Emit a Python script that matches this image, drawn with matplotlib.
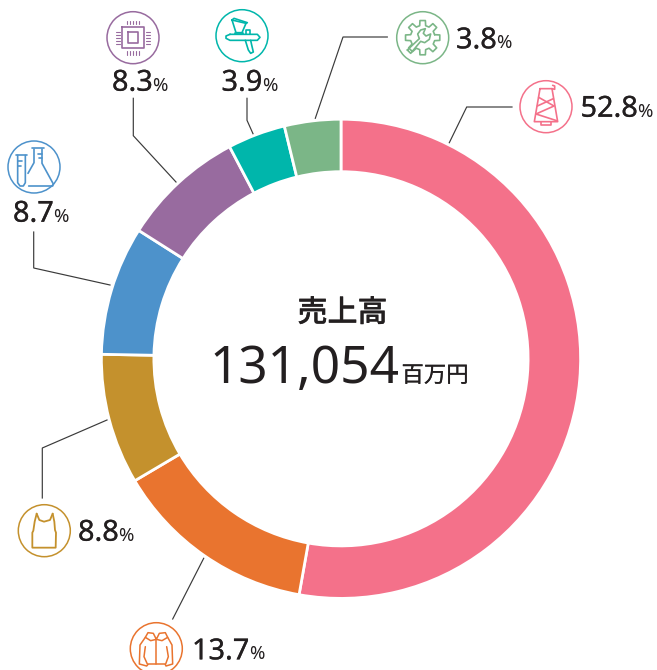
import numpy as np
import matplotlib
matplotlib.use("Agg")
import matplotlib.pyplot as plt
import matplotlib.patheffects as pe
from matplotlib.patches import Circle

# ---- data ----
segments = ["Textile", "Apparel", "Garment", "Lab", "Electronics", "Coating", "Machinery"]
shares = [52.8, 13.7, 8.8, 8.7, 8.3, 3.9, 3.8]
colors = ["#F4718A", "#E9742F", "#C4912D", "#4D92CB", "#986B9F", "#00B6AB", "#7BB687"]
share_labels = ["52.8", "13.7", "8.8", "8.7", "8.3", "3.9", "3.8"]
total_label = "売上高"
total_value = "131,054"
total_unit = "百万円"

INK = "#231F20"
NUM = "Noto Sans"
JP = "Noto Sans CJK JP"


def heavier(w):
    return [pe.withStroke(linewidth=w, foreground=INK)]


fig = plt.figure(figsize=(6.57, 6.70), dpi=100, facecolor="white")
ax = fig.add_axes([0, 0, 1, 1])

# Axes in pixels with y pointing down: a "counterclock" pie then runs clockwise on screen
ax.pie(shares, colors=colors, center=(341, 358.8), radius=239.6, startangle=-90,
       counterclock=True, wedgeprops=dict(width=52.5, edgecolor="white", linewidth=2.0))
ax.set_xlim(0, 657)
ax.set_ylim(670, 0)
ax.set_aspect("equal")
ax.set_axis_off()

# ---- leader lines ----
leaders = [
    [(449.3, 142.7), (466.7, 107), (512, 107)],
    [(203.7, 558.3), (172.7, 619)],
    [(107, 420), (42.3, 448), (42.3, 498)],
    [(110, 285), (33.7, 268), (33.7, 232)],
    [(176, 182), (133.3, 135.7), (133.3, 98.3)],
    [(253, 133.7), (247, 120.3), (247, 98.3)],
    [(315.3, 118.3), (343, 37), (387.3, 37)],
]
for pts in leaders:
    xs, ys = zip(*pts)
    ax.plot(xs, ys, color="#3a3a3a", lw=0.85, solid_joinstyle="miter", zorder=3)

# ---- value labels ----
label_pos = [(580.5, 116.7), (192, 659.3), (78, 540.7), (13, 221.7), (112, 90.7), (221.5, 90.7), (456, 48.3)]
fig.canvas.draw()
r = fig.canvas.get_renderer()
for s, (x, y) in zip(share_labels, label_pos):
    t = ax.text(x, y, s, family=NUM, fontsize=20.8, color=INK, va="baseline", ha="left",
                path_effects=heavier(0.18))
    bb = t.get_window_extent(r)
    ax.text(bb.x1 - 0.5, y, "%", family=NUM, fontsize=13.4, color=INK, va="baseline", ha="left")

# ---- centre text ----
ax.text(342.5, 313, total_label, family=JP, fontsize=21.6, color=INK, ha="center", va="center",
        weight="medium", path_effects=heavier(0.2))
ax.text(209.5, 382.5, total_value, family=NUM, fontsize=37, color=INK, ha="left", va="baseline", weight="light")
ax.text(401.5, 382, total_unit, family=JP, fontsize=16.1, color=INK, ha="left", va="baseline",
        path_effects=heavier(0.15))


# ---- icons (decorations), outlines given in 3x-zoom units ----
def icon(cx, cy, color):
    ax.add_patch(Circle((cx, cy), 26, fill=False, edgecolor=color, lw=1.1, zorder=4, clip_on=False))


def strokes(paths, ox, oy, color, lw=1.1):
    for p in paths:
        a = np.array(p, float)
        ax.plot(ox + a[:, 0] / 3, oy + a[:, 1] / 3, color=color, lw=lw, zorder=4, clip_on=False,
                solid_capstyle="round", solid_joinstyle="round")


# spool
c = colors[0]
icon(546, 106.7, c)
strokes([[(480, 266), (463, 365), (533, 365), (516, 266), (480, 266)],
         [(476, 292), (522, 318), (468, 342), (530, 362)],
         [(520, 296), (472, 318)],
         [(482, 365), (482, 376), (514, 376), (514, 365)],
         [(516, 266), (524, 268), (524, 258), (518, 256)]], 380, 0, c, 1.2)

# jacket
c = colors[1]
icon(156.3, 648.7, c)
strokes([[(469, 478), (460, 460), (444, 458), (436, 472), (420, 495), (418, 552), (440, 558), (445, 552), (495, 552), (498, 558), (518, 552), (516, 495), (503, 472), (496, 458), (478, 460), (469, 478)],
         [(469, 478), (469, 552)],
         [(436, 472), (452, 482), (469, 478), (486, 482), (503, 472)],
         [(436, 500), (432, 530), (442, 552)],
         [(500, 500), (505, 530), (497, 552)]], 0, 480, c, 1.1)

# tank top
c = colors[2]
icon(44.3, 530.7, c)
strokes([[(110, 101), (118, 120), (132, 125), (150, 120), (158, 101)],
         [(110, 101), (104, 125), (100, 152), (97, 158), (97, 203), (167, 203), (168, 158), (165, 150), (163, 125), (158, 101)]],
        0, 480, c, 1.3)

# flasks
c = colors[3]
icon(34, 167, c)
strokes([[(48, 464), (82, 464)],
         [(53, 466), (53, 548), (60, 558), (70, 558), (76, 548), (76, 466)],
         [(53, 482), (66, 482)], [(53, 498), (64, 498)],
         [(96, 445), (132, 445)],
         [(102, 447), (102, 488), (84, 520)],
         [(126, 447), (126, 490), (160, 552), (158, 558), (86, 558)],
         [(114, 462), (126, 462)], [(116, 475), (126, 475)]], 0, 0, c, 1.2)

# chip
c = colors[4]
icon(133, 37.7, c)
ccx, ccy = 399, 113
outer, inner = 32, 16
strokes([[(ccx - outer, ccy - outer), (ccx + outer, ccy - outer), (ccx + outer, ccy + outer), (ccx - outer, ccy + outer), (ccx - outer, ccy - outer)],
         [(ccx - inner, ccy - inner), (ccx + inner, ccy - inner), (ccx + inner, ccy + inner), (ccx - inner, ccy + inner), (ccx - inner, ccy - inner)]],
        0, 0, c, 1.2)
for d in (-18, -9, 0, 9, 18):
    strokes([[(ccx + d, ccy - 51), (ccx + d, ccy - 40)], [(ccx + d, ccy + 40), (ccx + d, ccy + 51)],
             [(ccx - 51, ccy + d), (ccx - 40, ccy + d)], [(ccx + 40, ccy + d), (ccx + 51, ccy + d)]], 0, 0, c, 0.8)

# spray gun
c = colors[5]
icon(242, 35.7, c)
strokes([[(696, 60), (738, 70), (726, 98), (708, 98), (696, 60)],
         [(696, 60), (702, 55), (742, 68), (738, 70)],
         [(704, 98), (704, 103), (730, 103), (730, 98)],
         [(690, 103), (772, 103), (780, 112), (772, 121), (690, 121), (678, 115), (678, 108), (690, 103)],
         [(738, 103), (738, 90), (750, 90), (750, 103)],
         [(736, 121), (745, 150), (752, 160), (760, 156), (755, 135), (752, 121)]], 0, 0, c, 1.2)

# gear and wrench
c = colors[6]
icon(422.7, 37.7, c)
gx, gy = 128, 113
ang = []
rad = []
for k in range(8):
    base = k * 45
    ang += [base - 14, base - 9, base + 9, base + 14]
    rad += [37, 52, 52, 37]
ang.append(ang[0])
rad.append(rad[0])
ang = np.radians(ang)
strokes([list(zip(gx + np.array(rad) * np.cos(ang), gy + np.array(rad) * np.sin(ang)))], 380, 0, c, 1.2)
strokes([[(82, 150), (118, 116), (113, 102), (122, 90), (136, 86), (130, 100), (138, 108), (152, 102), (148, 118), (134, 128), (122, 124), (92, 160), (82, 150)]], 380, 0, c, 1.2)

fig.savefig("out.png", dpi=100, facecolor="white")
